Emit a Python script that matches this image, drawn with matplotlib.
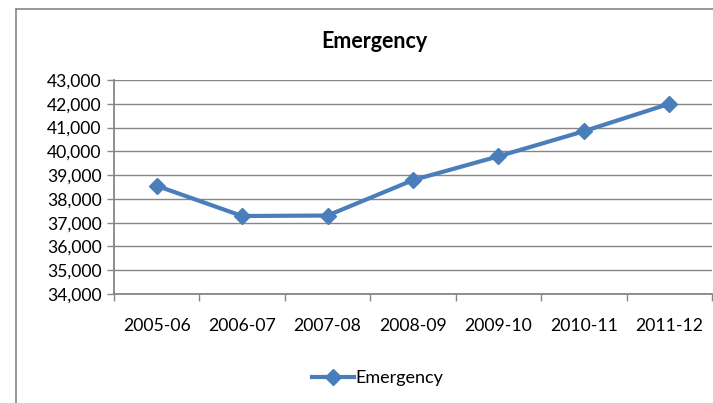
import numpy as np
import matplotlib
matplotlib.use('Agg')
import matplotlib.pyplot as plt
from matplotlib.lines import Line2D
from matplotlib.ticker import FuncFormatter, FixedLocator

years = ['2005-06', '2006-07', '2007-08', '2008-09', '2009-10', '2010-11', '2011-12']
emergency = [38550, 37280, 37300, 38790, 39790, 40845, 42000]

BLUE = '#4A7EBB'
GRID = '#868686'
W, H = 713, 403

plt.rcParams['font.family'] = ['Lato', 'DejaVu Sans']

fig = plt.figure(figsize=(W / 100, H / 100), dpi=100)
ax = fig.add_axes([114 / W, 1 - 294 / H, (712 - 114) / W, (294 - 80) / H])

x = np.arange(len(years))
ax.plot(x, emergency, color=BLUE, linewidth=3, marker='D', markersize=8,
        label='Emergency', zorder=3, clip_on=False)

ax.set_xlim(-0.5, len(years) - 0.5)
ax.set_ylim(34000, 43000)
ax.set_yticks(np.arange(34000, 43001, 1000))
ax.yaxis.set_major_formatter(FuncFormatter(lambda v, p: f'{int(v):,}'))
ax.grid(axis='y', color=GRID, linewidth=1, zorder=0)

ax.set_xticks(x)
ax.set_xticklabels(years)
ax.xaxis.set_minor_locator(FixedLocator(np.arange(-0.5, len(years), 1)))
ax.tick_params(axis='x', which='major', length=0, pad=17, labelsize=12.7)
ax.tick_params(axis='x', which='minor', length=5, color=GRID, width=1)
ax.tick_params(axis='y', length=5, color=GRID, width=1, pad=4, labelsize=12.6)

for s in ['top', 'right']:
    ax.spines[s].set_visible(False)
for s in ['left', 'bottom']:
    ax.spines[s].set_color(GRID)
    ax.spines[s].set_linewidth(1.3)

fig.text(374 / W, 1 - 42 / H, 'Emergency', ha='center', va='center',
         fontsize=15.5, fontweight='bold')

fig.legend(loc='center', bbox_to_anchor=(378 / W, 1 - 378 / H), frameon=False,
           fontsize=13, handlelength=2.3, handletextpad=0.1)

fig.add_artist(Line2D([16 / W, 16 / W], [0, 1 - 9 / H], color=GRID, linewidth=1.2))
fig.add_artist(Line2D([16 / W, 1], [1 - 9 / H, 1 - 9 / H], color=GRID, linewidth=1.2))

fig.savefig('out.png', dpi=100)
